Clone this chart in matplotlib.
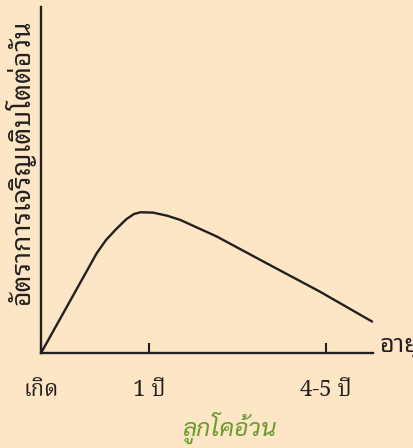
import matplotlib
matplotlib.use('Agg')
import matplotlib.pyplot as plt

# growth curve of a beef calf (arbitrary units 0-10)
age = [0, 1.68, 1.96, 2.26, 2.57, 2.80, 3.00, 3.37, 3.80, 4.19, 5.29, 6.98, 8.39, 9.97]
rate = [0, 2.89, 3.27, 3.58, 3.87, 4.02, 4.07, 4.06, 3.97, 3.85, 3.37, 2.50, 1.78, 0.91]

tick_pos = [0, 3.25, 8.58]
tick_labels = ['เกิด', '1 ปี', '4-5 ปี']

bg = '#FDE6C6'
ink = '#231F20'

fig = plt.figure(figsize=(4.13, 4.48), dpi=100, facecolor=bg)
ax = fig.add_axes([0.0993, 0.212, 0.804, 0.772], facecolor=bg)

ax.plot(age, rate, color=ink, lw=1.7, solid_capstyle='round',
        solid_joinstyle='round', clip_on=False)

ax.set_xlim(0, 10)
ax.set_ylim(0, 10)
for s in ['top', 'right']:
    ax.spines[s].set_visible(False)
for s in ['left', 'bottom']:
    ax.spines[s].set_linewidth(1.7)
    ax.spines[s].set_color(ink)

ax.set_xticks(tick_pos)
ax.set_xticklabels(tick_labels, family='Noto Serif Thai', fontsize=16, color=ink)
ax.tick_params(axis='x', direction='in', length=7.5, width=1.5, color=ink, pad=19)
ax.set_yticks([])

ax.text(-0.062, 0.553, 'อัตราการเจริญเติบโตต่อวัน', transform=ax.transAxes,
        rotation=90, ha='center', va='center', family='Noto Sans Thai Looped',
        fontsize=19, color=ink)
ax.text(1.02, 0.015, 'อายุ', transform=ax.transAxes, ha='left', va='center',
        family='Noto Sans Thai Looped', fontsize=18, color=ink, clip_on=False)

fig.text(0.557, 0.045, 'ลูกโคอ้วน', ha='center', va='center', family='Sarabun',
         style='italic', fontsize=17.5, color='#6B9A2E')

fig.savefig('out.png', facecolor=bg)
